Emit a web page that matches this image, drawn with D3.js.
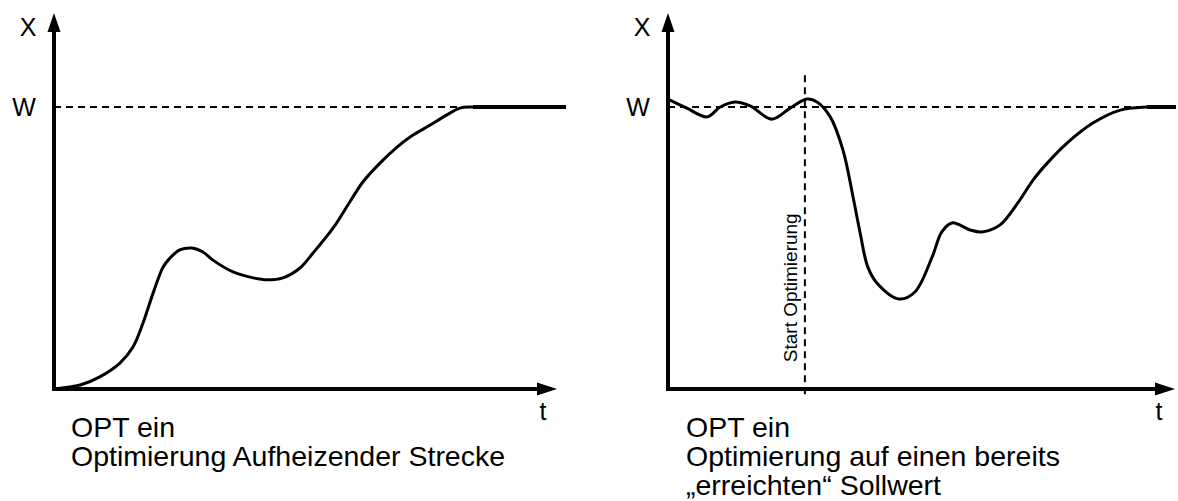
<!DOCTYPE html>
<html>
<head>
<meta charset="utf-8">
<script src="https://cdn.jsdelivr.net/npm/d3@7"></script>
<style>
  body { margin: 0; background: #fff; }
  svg text { font-family: Arial, "Liberation Sans", sans-serif; fill: #000; }
</style>
</head>
<body>
<svg id="chart" width="1178" height="501"></svg>
<script>
// setpoint W = 1, time 0..100 per panel
var W = 1;

// left panel: heating up from zero
var leftT = [0, 5.2, 9.1, 13.1, 15.7, 17.7, 19.7, 21.7, 23.1, 25.0, 27.4, 29.6, 31.6, 35.6, 39.6, 42.3, 45.5, 48.9, 51.5, 55.5, 58.8, 61.4, 64.8, 68.2, 70.8, 74.8, 78.1, 80.7, 83.3, 101.8];
var leftX = [0, 0.014, 0.043, 0.092, 0.149, 0.234, 0.340, 0.433, 0.465, 0.493, 0.500, 0.486, 0.457, 0.415, 0.394, 0.387, 0.394, 0.429, 0.482, 0.571, 0.663, 0.734, 0.801, 0.858, 0.894, 0.936, 0.972, 0.996, 1, 1];

// right panel: already at setpoint, then optimisation starts
var rightT = [0, 3.7, 7.7, 10.3, 13.2, 16.2, 20.5, 24.1, 27.4, 29.4, 32.0, 34.5, 36.5, 37.9, 39.4, 41.2, 45.6, 48.7, 52.1, 54.0, 56.0, 59.6, 61.9, 65.5, 69.0, 72.0, 74.8, 78.7, 83.8, 89.2, 94.5, 100.2];
var rightX = [1.028, 0.996, 0.965, 1.0, 1.018, 1.004, 0.957, 0.996, 1.028, 1.018, 0.965, 0.848, 0.681, 0.553, 0.433, 0.376, 0.319, 0.344, 0.468, 0.557, 0.589, 0.564, 0.557, 0.582, 0.660, 0.741, 0.801, 0.872, 0.943, 0.989, 1, 1];
var startT = 27.0;

var leftText = ["OPT ein", "Optimierung Aufheizender Strecke"];
var rightText = ["OPT ein", "Optimierung auf einen bereits", "\u201eerreichten\u201c Sollwert"];

var svg = d3.select("#chart");

var y = d3.scaleLinear().domain([0, W]).range([389, 107]);
var yTop = 1.333;

function panel(xRange, ts, xs, texts, labels, startLine) {
    var x = d3.scaleLinear().domain([0, 100]).range(xRange);
    var g = svg.append("g");
    var data = ts.map(function(t, i) { return { t: t, v: xs[i] }; });
    var x0 = x(0), y0 = y(0);

    // setpoint line
    g.append("line")
        .attr("x1", x0).attr("x2", x(d3.max(ts)))
        .attr("y1", y(W)).attr("y2", y(W))
        .attr("stroke", "#000").attr("stroke-width", 2)
        .attr("stroke-dasharray", "7,5");

    if (startLine != null) {
        g.append("line")
            .attr("x1", x(startLine)).attr("x2", x(startLine))
            .attr("y1", y(1.113)).attr("y2", y(-0.021))
            .attr("stroke", "#000").attr("stroke-width", 2)
            .attr("stroke-dasharray", "7,5");
        g.append("text")
            .attr("transform", "translate(" + (x(startLine) - 8) + "," + y(0.095) + ") rotate(-90)")
            .attr("font-size", 19)
            .text("Start Optimierung");
    }

    // axes with arrow heads
    g.append("line")
        .attr("x1", x0).attr("x2", x0)
        .attr("y1", y0 + 2).attr("y2", y(yTop) + 16)
        .attr("stroke", "#000").attr("stroke-width", 4);
    g.append("line")
        .attr("x1", x0 - 2).attr("x2", x(100) - 18)
        .attr("y1", y0).attr("y2", y0)
        .attr("stroke", "#000").attr("stroke-width", 4);
    var ty = y(yTop);
    g.append("path")
        .attr("d", "M" + x0 + "," + ty + "L" + (x0 + 6.5) + "," + (ty + 19) + "L" + (x0 - 6.5) + "," + (ty + 19) + "Z")
        .attr("fill", "#000");
    var tx = x(100);
    g.append("path")
        .attr("d", "M" + tx + "," + y0 + "L" + (tx - 20) + "," + (y0 - 6.5) + "L" + (tx - 20) + "," + (y0 + 6.5) + "Z")
        .attr("fill", "#000");

    // curve
    var path = d3.line()
        .x(function(d) { return x(d.t); })
        .y(function(d) { return y(d.v); })
        .curve(d3.curveCatmullRom.alpha(0.5));
    g.append("path").datum(data)
        .attr("d", path)
        .attr("fill", "none").attr("stroke", "#000").attr("stroke-width", 3);
    // held at setpoint (thicker)
    var heldIdx = data.findIndex(function(d, i) {
        return data.slice(i).every(function(e) { return e.v === W; });
    });
    g.append("path").datum(data.slice(heldIdx))
        .attr("d", path)
        .attr("fill", "none").attr("stroke", "#000").attr("stroke-width", 4);

    // labels
    g.append("text").attr("x", x0 - 26).attr("y", 36).attr("font-size", 25).attr("text-anchor", "middle").text("X");
    g.append("text").attr("x", x0 - 30).attr("y", y(W) + 9).attr("font-size", 25).attr("text-anchor", "middle").text("W");
    g.append("text").attr("x", x(100) - labels.tOff).attr("y", 420).attr("font-size", 25).attr("text-anchor", "middle").text("t");

    texts.forEach(function(s, i) {
        g.append("text")
            .attr("x", x0 + labels.textOff)
            .attr("y", 437 + i * 29)
            .attr("font-size", 28.5)
            .text(s);
    });
}

panel([54, 557], leftT, leftX, leftText, { tOff: 14, textOff: 17 }, null);
panel([668, 1175], rightT, rightX, rightText, { tOff: 16, textOff: 18 }, startT);
</script>
</body>
</html>
